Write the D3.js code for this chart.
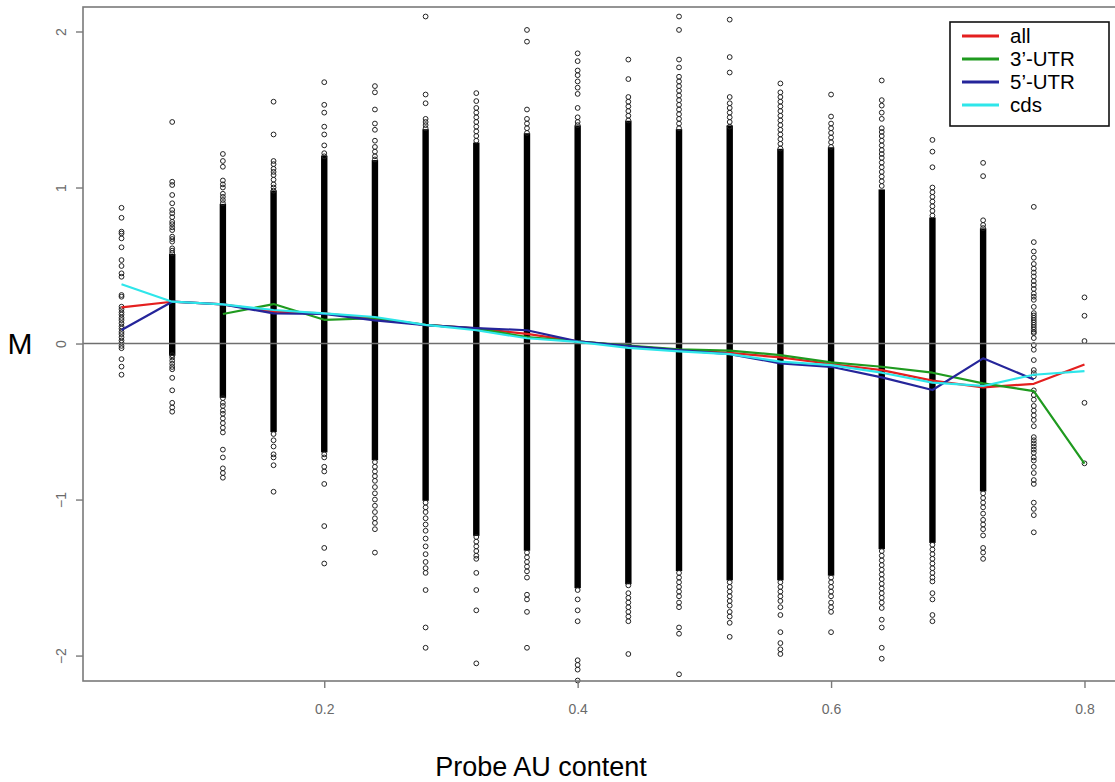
<!DOCTYPE html>
<html><head><meta charset="utf-8">
<script src="https://cdn.jsdelivr.net/npm/d3@7/dist/d3.min.js"></script>
<style>
body{margin:0;background:#fff;}
svg{display:block;font-family:"Liberation Sans",Arial,sans-serif;}
</style>
</head><body>
<svg id="chart" width="1115" height="782"></svg>
<script>
// ---- data ----
const auContent = [0.04,0.08,0.12,0.16,0.20,0.24,0.28,0.32,0.36,0.40,0.44,0.48,0.52,0.56,0.60,0.64,0.68,0.72,0.76,0.80];

// dense (solid) part of each strip: low / high M value (null = no dense part)
const coreLow  = [null,-0.06,-0.33,-0.55,-0.68,-0.73,-0.99,-1.215,-1.31,-1.55,-1.525,-1.44,-1.50,-1.50,-1.47,-1.30,-1.26,-0.93,null,null];
const coreHigh = [null,0.556,0.877,0.963,1.186,1.158,1.356,1.27,1.33,1.38,1.41,1.356,1.38,1.23,1.24,0.97,0.79,0.72,null,null];

// individually visible points of each strip
const sparsePoints = [
  [0.87,0.806,0.717,0.705,0.674,0.617,0.535,0.497,0.45,0.428,0.311,0.30,0.236,0.22,0.20,0.185,0.165,0.15,0.13,0.11,0.095,0.075,0.06,0.04,0.02,0.005,-0.015,-0.03,-0.10,-0.148,-0.20],
  [1.42,1.037,1.016,0.952,0.899,0.856,0.835,0.81,0.78,0.765,0.745,0.727,0.685,0.67,0.653,0.61,0.595,0.58,-0.075,-0.09,-0.11,-0.13,-0.15,-0.165,-0.22,-0.30,-0.38,-0.41,-0.437],
  [1.215,1.17,1.133,1.045,1.02,1.0,0.96,0.94,0.92,0.90,-0.35,-0.38,-0.40,-0.43,-0.45,-0.48,-0.51,-0.54,-0.57,-0.68,-0.73,-0.80,-0.83,-0.86],
  [1.55,1.34,1.17,1.15,1.12,1.10,1.08,1.05,1.02,1.0,0.98,-0.58,-0.62,-0.66,-0.71,-0.73,-0.78,-0.95],
  [1.675,1.53,1.48,1.39,1.34,1.27,1.22,1.20,-0.71,-0.73,-0.79,-0.82,-0.90,-1.17,-1.31,-1.41],
  [1.65,1.61,1.50,1.41,1.37,1.30,1.26,1.23,1.20,1.18,-0.76,-0.79,-0.82,-0.85,-0.88,-0.92,-0.96,-1.0,-1.04,-1.08,-1.12,-1.15,-1.19,-1.34],
  [2.096,1.596,1.54,1.44,1.42,1.40,1.38,-1.02,-1.05,-1.08,-1.12,-1.16,-1.20,-1.25,-1.30,-1.35,-1.40,-1.44,-1.47,-1.58,-1.82,-1.95],
  [1.605,1.554,1.51,1.48,1.45,1.42,1.39,1.36,1.33,1.30,-1.24,-1.27,-1.30,-1.33,-1.36,-1.38,-1.47,-1.58,-1.71,-2.05],
  [2.01,1.935,1.50,1.44,1.41,1.38,1.35,-1.34,-1.37,-1.40,-1.43,-1.46,-1.50,-1.61,-1.64,-1.72,-1.95],
  [1.86,1.81,1.75,1.72,1.68,1.64,1.60,1.51,1.45,1.42,1.40,-1.58,-1.64,-1.71,-1.78,-2.03,-2.06,-2.09,-2.16],
  [1.82,1.695,1.58,1.55,1.52,1.49,1.46,1.43,-1.55,-1.60,-1.63,-1.66,-1.69,-1.72,-1.75,-1.78,-1.99],
  [2.096,2.01,1.82,1.77,1.71,1.68,1.65,1.62,1.59,1.56,1.53,1.50,1.47,1.44,1.41,1.38,-1.47,-1.50,-1.53,-1.56,-1.59,-1.62,-1.66,-1.69,-1.82,-1.86,-2.12],
  [2.076,1.836,1.737,1.58,1.54,1.51,1.48,1.45,1.42,1.39,-1.53,-1.56,-1.59,-1.62,-1.65,-1.68,-1.72,-1.75,-1.79,-1.88],
  [1.667,1.61,1.58,1.55,1.52,1.49,1.46,1.43,1.40,1.37,1.34,1.31,1.28,1.25,-1.53,-1.56,-1.59,-1.62,-1.65,-1.69,-1.74,-1.85,-1.92,-1.96,-1.99],
  [1.596,1.455,1.41,1.38,1.35,1.32,1.29,1.26,-1.50,-1.53,-1.56,-1.59,-1.62,-1.66,-1.69,-1.72,-1.85],
  [1.686,1.56,1.525,1.48,1.44,1.38,1.356,1.33,1.30,1.27,1.24,1.215,1.19,1.16,1.13,1.10,1.07,1.04,1.01,-1.33,-1.36,-1.39,-1.42,-1.45,-1.48,-1.51,-1.54,-1.57,-1.60,-1.63,-1.66,-1.695,-1.77,-1.82,-1.95,-2.02],
  [1.305,1.23,1.13,1.0,0.97,0.94,0.91,0.88,0.85,0.82,-1.29,-1.32,-1.35,-1.38,-1.41,-1.44,-1.47,-1.50,-1.525,-1.60,-1.64,-1.74,-1.78],
  [1.158,1.073,0.79,0.76,0.74,-0.96,-0.99,-1.02,-1.05,-1.09,-1.13,-1.16,-1.19,-1.23,-1.31,-1.34,-1.38],
  [0.876,0.65,0.59,0.55,0.51,0.48,0.455,0.43,0.40,0.375,0.35,0.32,0.30,0.28,0.235,0.195,0.18,0.165,0.15,0.135,0.12,0.105,0.09,0.075,0.067,0.035,-0.01,-0.04,-0.106,-0.17,-0.19,-0.21,-0.30,-0.33,-0.36,-0.40,-0.43,-0.46,-0.49,-0.53,-0.60,-0.62,-0.64,-0.66,-0.68,-0.70,-0.73,-0.75,-0.79,-0.83,-0.875,-0.90,-1.02,-1.06,-1.10,-1.21],
  [0.296,0.178,0.016,-0.38,-0.768]
];

// mean lines per probe region
const seriesNames  = ["all","3\u2019-UTR","5\u2019-UTR","cds"];
const seriesColors = ["#e41f1f","#1f9a1f","#25259a","#2ee6ea"];
const mAll  = [0.232,0.268,0.251,0.204,0.193,0.158,0.12,0.097,0.062,0.014,-0.016,-0.042,-0.06,-0.089,-0.131,-0.17,-0.238,-0.281,-0.258,-0.135];
const m3UTR = [null,null,0.189,0.253,0.152,0.162,0.12,0.095,0.042,0.014,-0.014,-0.037,-0.045,-0.074,-0.121,-0.149,-0.187,-0.255,-0.305,-0.77];
const m5UTR = [0.087,0.268,0.251,0.193,0.19,0.148,0.118,0.099,0.085,0.014,-0.016,-0.042,-0.068,-0.127,-0.149,-0.217,-0.298,-0.095,-0.23,null];
const mCds  = [0.38,0.268,0.251,0.215,0.193,0.17,0.12,0.085,0.034,0.01,-0.028,-0.05,-0.068,-0.116,-0.138,-0.187,-0.251,-0.272,-0.2,-0.177];
const seriesValues = [mAll, m3UTR, m5UTR, mCds];

const xTicks = [0.2,0.4,0.6,0.8];
const yTicks = [-2,-1,0,1,2];
const xTitle = "Probe AU content";
const yTitle = "M";

// ---- drawing ----
(function(){
const svg = d3.select("#chart");
const pl = 83, pr = 1123, pt = 7, pb = 681;
const x = d3.scaleLinear().domain([0.0096, 0.8304]).range([pl, pr]);
const y = d3.scaleLinear().domain([-2.163, 2.157]).range([pb, pt]);
const axisCol = "#7a7a7a";

const pts = [];
auContent.forEach((a,i) => sparsePoints[i].forEach(v => pts.push([a,v])));
const g = svg.append("g");
g.selectAll("rect.core").data(auContent.map((a,i)=>({a, lo:coreLow[i], hi:coreHigh[i]})).filter(d=>d.lo!==null))
  .enter().append("rect").attr("class","core")
  .attr("x", d => x(d.a) - 3.2).attr("width", 6.4)
  .attr("y", d => y(d.hi) - 2.8).attr("height", d => y(d.lo) - y(d.hi) + 5.6)
  .attr("fill", "#000");
g.selectAll("circle").data(pts).enter().append("circle")
  .attr("cx", d => x(d[0])).attr("cy", d => y(d[1])).attr("r", 2.4)
  .attr("fill","none").attr("stroke","#222").attr("stroke-width",1.0);

svg.append("line").attr("x1", pl).attr("x2", 1115).attr("y1", y(0)).attr("y2", y(0))
  .attr("stroke", "#6f6f6f").attr("stroke-width", 1.6);

const line = d3.line().defined(d => d[1] !== null).x(d => x(d[0])).y(d => y(d[1]));
seriesValues.forEach((vals, k) => {
  svg.append("path").datum(auContent.map((a,i)=>[a, vals[i]]))
    .attr("d", line).attr("fill","none").attr("stroke", seriesColors[k])
    .attr("stroke-width", 2.2).attr("stroke-linejoin","round");
});

svg.append("rect").attr("x", pl).attr("y", pt).attr("width", pr-pl).attr("height", pb-pt)
  .attr("fill","none").attr("stroke", axisCol).attr("stroke-width", 1.6);

const xAxis = d3.axisBottom(x).tickValues(xTicks).tickSize(7).tickPadding(16).tickFormat(d3.format(".1f"));
const xg = svg.append("g").attr("transform", `translate(0,${pb})`).call(xAxis);
xg.select(".domain").remove();
xg.selectAll("line").attr("stroke", axisCol).attr("stroke-width", 1.4);
xg.selectAll("text").attr("fill", "#6a6a6a").attr("font-size", 14).attr("font-family", "Liberation Sans, Arial, sans-serif");

const yAxis = d3.axisLeft(y).tickValues(yTicks).tickSize(7).tickFormat(d3.format("d"));
const yg = svg.append("g").attr("transform", `translate(${pl},0)`).call(yAxis);
yg.select(".domain").remove();
yg.selectAll("line").attr("stroke", axisCol).attr("stroke-width", 1.4);
yg.selectAll("text").attr("fill", "#6a6a6a").attr("font-size", 14)
  .attr("font-family", "Liberation Sans, Arial, sans-serif")
  .attr("text-anchor","middle").attr("dy", null).attr("x", null)
  .attr("transform", "translate(-21,0) rotate(-90)").attr("dominant-baseline","middle");

svg.append("text").attr("x", 20).attr("y", y(0)).attr("dy","0.36em").attr("text-anchor","middle")
  .attr("font-size", 30).attr("fill","#000").text(yTitle);
svg.append("text").attr("x", 541).attr("y", 776).attr("text-anchor","middle")
  .attr("font-size", 27).attr("fill","#000").text(xTitle);

const lg = svg.append("g");
lg.append("rect").attr("x", 950).attr("y", 22).attr("width", 159).attr("height", 104)
  .attr("fill","#fff").attr("stroke","#111").attr("stroke-width",1.6);
seriesNames.forEach((n,k) => {
  const yy = 36 + k*23;
  lg.append("line").attr("x1", 962).attr("x2", 999).attr("y1", yy).attr("y2", yy)
    .attr("stroke", seriesColors[k]).attr("stroke-width", 3);
  lg.append("text").attr("x", 1010).attr("y", yy).attr("dy","0.35em")
    .attr("font-size", 20.5).attr("fill","#000").text(n);
});
})();
</script>
</body></html>
